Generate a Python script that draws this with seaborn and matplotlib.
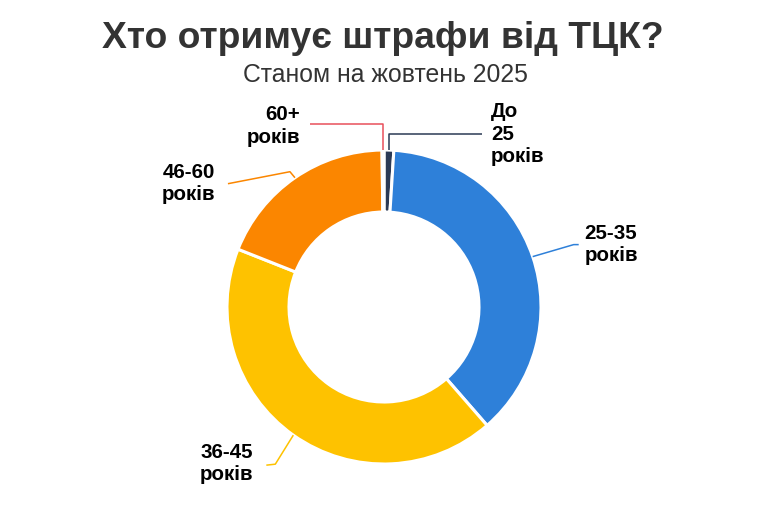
import numpy as np
import matplotlib
matplotlib.use("Agg")
import matplotlib.pyplot as plt
import seaborn as sns

# Дані (частка штрафів за віковими групами, %), за годинниковою стрілкою від верху
groups = ["До\n25\nроків", "25-35\nроків", "36-45\nроків", "46-60\nроків", "60+\nроків"]
shares = [1.0, 37.6, 42.4, 18.8, 0.2]
colors = ["#2b3a55", "#2e80d9", "#fec200", "#fb8600", "#e8505b"]

# Вигляд підписів-виносок: (злам, кінець лінії, зсув тексту, вирівнювання)
connectors = [
    ((0, 16), (93, 16), (9, 0), "left"),
    ((41, 12), (46, 12), (6, 0), "left"),
    ((-18, -29), (-27, -30), (-13, 2), "right"),
    ((-5, 6), (-67, -6), (-13, 0), "right"),
    ((0, 26), (-73, 26), (-10, -2), "right"),
]

sns.set_theme(style="white")
plt.rcParams["font.family"] = ["Liberation Sans", "DejaVu Sans"]

W, H = 783, 530
fig = plt.figure(figsize=(W / 100, H / 100), dpi=100)
ax = fig.add_axes([0, 0, 1, 1])

cx, cy, R, r_in = 384, H - 307, 157, 95
wedges, _ = ax.pie(
    shares, colors=colors, startangle=90, counterclock=False,
    center=(cx, cy), radius=R, frame=True,
    wedgeprops=dict(width=R - r_in, edgecolor="white", linewidth=2.2, joinstyle="round"),
)
ax.set_xlim(0, W)
ax.set_ylim(0, H)
ax.set_aspect("equal")
ax.axis("off")

for w, lab, col, (elb, end, off, ha) in zip(wedges, groups, colors, connectors):
    mid = np.deg2rad((w.theta1 + w.theta2) / 2)
    x0, y0 = cx + R * np.cos(mid), cy + R * np.sin(mid)
    xs = [x0, x0 + elb[0], x0 + end[0]]
    ys = [y0, y0 + elb[1], y0 + end[1]]
    ax.plot(xs, ys, color=col, lw=1.1, solid_capstyle="butt")
    ax.text(xs[-1] + off[0], ys[-1] + off[1], lab, ha=ha, va="center",
            fontsize=14.8, fontweight="bold", color="black", linespacing=1.22)

ax.text(383, H - 48, "Хто отримує штрафи від ТЦК?", ha="center", va="baseline",
        fontsize=26.8, fontweight="bold", color="#333333")
ax.text(385, H - 82, "Станом на жовтень 2025", ha="center", va="baseline",
        fontsize=17.8, color="#333333")

fig.savefig("out.png", dpi=100)
